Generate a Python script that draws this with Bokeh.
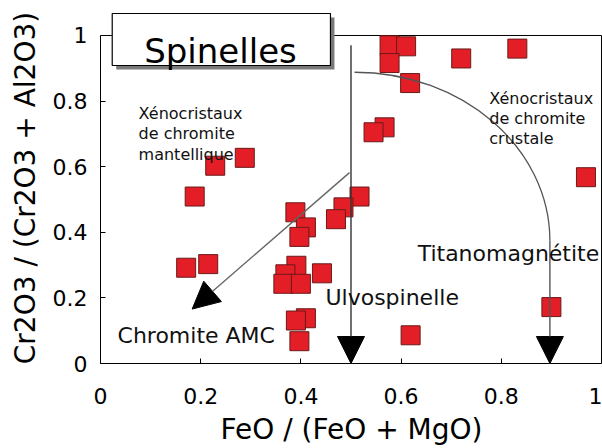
from bokeh.plotting import figure
from bokeh.models import Range1d, FixedTicker, Label, Arrow, NormalHead
from bokeh.embed import file_html
from bokeh.resources import INLINE

# ---- data: FeO/(FeO+MgO) vs Cr2O3/(Cr2O3+Al2O3) ----
fe_ratio = [0.577, 0.610, 0.577, 0.618, 0.567, 0.545, 0.517, 0.485, 0.470,
            0.720, 0.832, 0.969, 0.900, 0.619, 0.229, 0.288, 0.188, 0.389,
            0.410, 0.397, 0.171, 0.215, 0.391, 0.369, 0.442, 0.365, 0.400,
            0.410, 0.390, 0.397]
cr_ratio = [0.970, 0.967, 0.916, 0.855, 0.720, 0.705, 0.509, 0.476, 0.440,
            0.930, 0.960, 0.568, 0.172, 0.086, 0.603, 0.627, 0.509, 0.461,
            0.415, 0.386, 0.292, 0.303, 0.298, 0.272, 0.275, 0.243, 0.243,
            0.138, 0.131, 0.068]

x_ticks = [0, 0.2, 0.4, 0.6, 0.8, 1]
x_tick_labels = ["0", "0.2", "0.4", "0.6", "0.8", "1"]
y_ticks = [0, 0.2, 0.4, 0.6, 0.8, 1]
y_tick_labels = ["0", "0.2", "0.4", "0.6", "0.8", "1"]

title_text = "Spinelles"
x_label = "FeO / (FeO + MgO)"
y_label = "Cr2O3 / (Cr2O3 + Al2O3)"

# trend arrows: start / tip
arrow_x0 = [0.5, 0.497, 0.897]
arrow_y0 = [0.97, 0.582, 0.374]
arrow_x1 = [0.5, 0.183, 0.897]
arrow_y1 = [0.0, 0.166, 0.0]

# curved trend (cubic bezier) towards titanomagnetite
curve_x0 = [0.507]
curve_y0 = [0.888]
curve_x1 = [0.897]
curve_y1 = [0.374]
curve_cx0 = [0.722]
curve_cy0 = [0.888]
curve_cx1 = [0.897]
curve_cy1 = [0.658]

# small field annotations (one entry per line)
small_text = ["Xénocristaux", "de chromite", "mantellique",
              "Xénocristaux", "de chromite", "crustale"]
small_x = [0.076, 0.076, 0.076, 0.776, 0.776, 0.776]
small_y = [0.762, 0.700, 0.637, 0.808, 0.747, 0.686]

# large end-member annotations
big_text = ["Chromite AMC", "Ulvospinelle", "Titanomagnétite"]
big_x = [0.034, 0.449, 0.633]
big_y = [0.0854, 0.201, 0.335]

# title box (data coords; drawn above y = 1)
box_left, box_right, box_top, box_bottom = 0.0234, 0.459, 1.067, 0.9085
title_x, title_y = 0.2395, 0.954

FONT = "DejaVu Sans"

p = figure(width=602, height=448, x_range=Range1d(0, 1.002),
           y_range=Range1d(0, 1.0701),
           output_backend="svg", toolbar_location=None,
           min_border_left=100, min_border_right=0, min_border_top=12,
           min_border_bottom=85)
p.grid.visible = False
p.outline_line_color = None
p.background_fill_color = "white"
p.border_fill_color = "white"

for ax, ticks, labels, lab in ((p.xaxis[0], x_ticks, x_tick_labels, x_label),
                               (p.yaxis[0], y_ticks, y_tick_labels, y_label)):
    ax.ticker = FixedTicker(ticks=ticks)
    ax.major_label_overrides = {t: l for t, l in zip(ticks, labels)}
    ax.major_tick_in = 5
    ax.major_tick_out = 0
    ax.minor_tick_line_color = None
    ax.axis_line_color = "black"
    ax.major_tick_line_color = "black"
    ax.major_label_text_font = FONT
    ax.major_label_text_font_size = "22px"
    ax.major_label_text_color = "black"
    ax.axis_label = lab
    ax.axis_label_text_font = FONT
    ax.axis_label_text_font_size = "28px"
    ax.axis_label_text_font_style = "normal"
    ax.axis_label_text_color = "black"

p.yaxis.bounds = (0, 1)
p.yaxis.major_label_standoff = 13
p.yaxis.axis_label_standoff = 8
p.xaxis.bounds = (0, 1)
p.xaxis.major_label_standoff = 24
p.xaxis.axis_label_standoff = 6

# frame: top and right edges
p.segment(x0=[0, 1], y0=[1, 0], x1=[1, 1], y1=[1, 1],
          line_color="black", line_width=1)

# data points
p.scatter(fe_ratio, cr_ratio, marker="square", size=19,
          fill_color="#e41e26", line_color="#6a1a1a", line_width=1)

# curve
p.bezier(x0=curve_x0, y0=curve_y0, x1=curve_x1, y1=curve_y1,
         cx0=curve_cx0, cy0=curve_cy0, cx1=curve_cx1, cy1=curve_cy1,
         line_color="#555555", line_width=1.3)

arrow_colors = ["#333333", "#666666", "#555555"]
for x0, y0, x1, y1, c in zip(arrow_x0, arrow_y0, arrow_x1, arrow_y1, arrow_colors):
    p.add_layout(Arrow(x_start=x0, y_start=y0, x_end=x1, y_end=y1,
                       line_color=c, line_width=1.4,
                       end=NormalHead(size=27, fill_color="black",
                                      line_color="black")))

for t, x, y in zip(small_text, small_x, small_y):
    p.add_layout(Label(x=x, y=y, text=t, text_font=FONT,
                       text_font_size="16px", text_color="#111111",
                       text_baseline="alphabetic"))
for t, x, y in zip(big_text, big_x, big_y):
    p.add_layout(Label(x=x, y=y, text=t, text_font=FONT,
                       text_font_size="22px", text_color="#111111",
                       text_baseline="alphabetic"))

# title box with shadow
dx, dy = 0.008, 0.0125
p.quad(left=[box_left + dx], right=[box_right + dx], top=[box_top - dy],
       bottom=[box_bottom - dy], fill_color="#7a7a7a", line_color=None)
p.quad(left=[box_left], right=[box_right], top=[box_top], bottom=[box_bottom],
       fill_color="white", line_color="black", line_width=1.2)
p.add_layout(Label(x=title_x, y=title_y, text=title_text, text_font=FONT,
                   text_font_size="34px", text_color="black",
                   text_align="center", text_baseline="alphabetic"))

open("out.html", "w").write(file_html(p, INLINE))
